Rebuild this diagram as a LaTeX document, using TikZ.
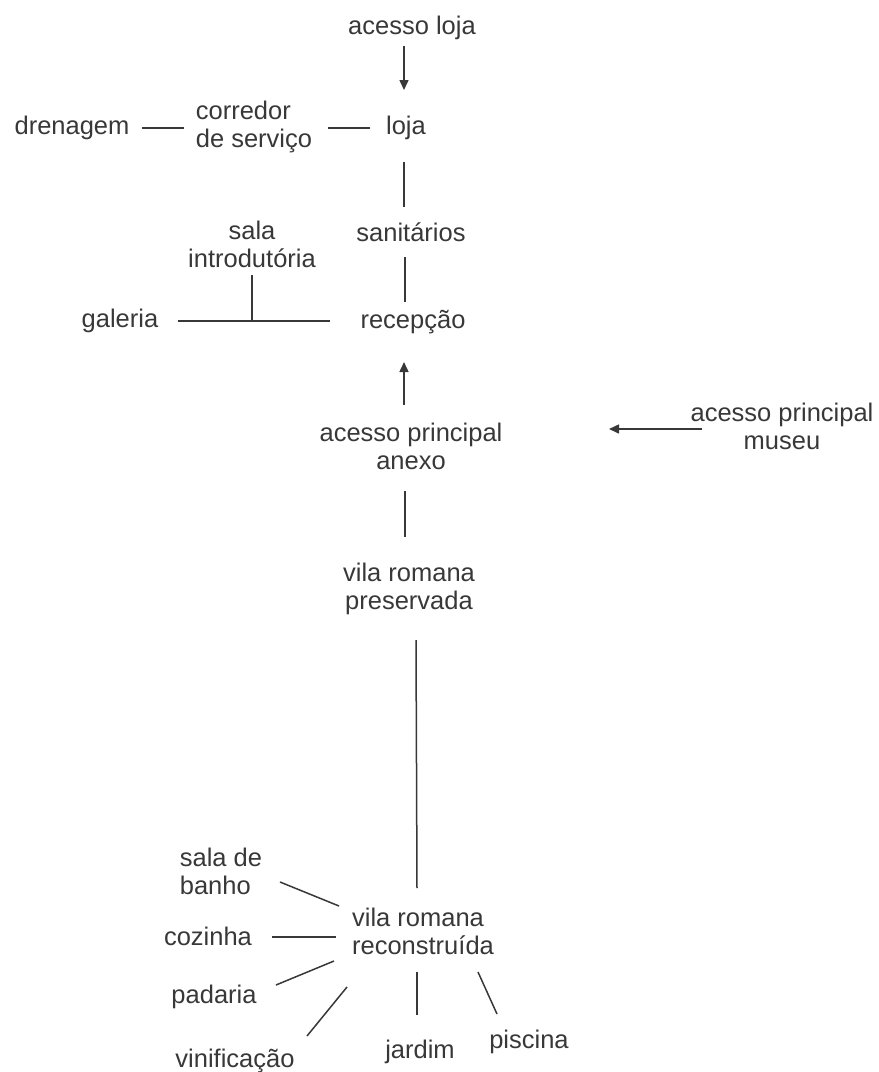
\documentclass[tikz,border=0pt]{standalone}
\usepackage{fontspec}
\setmainfont{Liberation Sans}
\usetikzlibrary{arrows.meta,calc}
\definecolor{ink}{HTML}{383838}
\tikzset{
  room/.style={inner sep=0pt, outer sep=0pt, text=ink, align=center,
    font=\fontsize{25.5}{28}\selectfont},
  link/.style={draw=ink, line width=1.5pt},
  flow/.style={link, -{Triangle[length=10pt, width=9pt]}}
}
\begin{document}
\begin{tikzpicture}[x=1pt, y=-1pt]
\useasboundingbox (0,0) rectangle (879,1072);
% top: shop and service wing
\node[room] (acessoloja) at (412,28) {acesso loja};
\node[room] (loja) at (406,128) {loja};
\node[room, align=left] (corredor) at (254,127) {corredor\\de serviço};
\node[room] (drenagem) at (72,128) {drenagem};
\node[room] (sanitarios) at (411,232) {sanitários};
\node[room] (recepcao) at (413,322) {recepção};
\node[room] (galeria) at (120,321) {galeria};
\node[room] (salaintro) at (252,244) {sala\\introdutória};
% entrances
\node[room] (anexo) at (411,446) {acesso principal\\anexo};
\node[room] (museu) at (782,426) {acesso principal\\museu};
\node[room] (preservada) at (409,589) {vila romana\\preservada};
% bottom: reconstructed villa
\node[room, align=left] (recon) at (423,931) {vila romana\\reconstruída};
\node[room, align=left] (banho) at (221,871) {sala de\\banho};
\node[room] (cozinha) at (208,936) {cozinha};
\node[room] (padaria) at (214,997) {padaria};
\node[room] (vinificacao) at (235,1061) {vinificação};
\node[room] (jardim) at (420,1052) {jardim};
\node[room] (piscina) at (529,1042) {piscina};

\draw[flow] ($(acessoloja)+(-8,18)$) -- ($(loja)+(-2,-38)$);
\draw[link] ($(drenagem)+(70,0)$) -- ($(corredor)+(-70,1)$);
\draw[link] ($(corredor)+(74,1)$) -- ($(loja)+(-36,0)$);
\draw[link] ($(loja)+(-2,34)$) -- ($(sanitarios)+(-7,-25)$);
\draw[link] ($(sanitarios)+(-6,25)$) -- ($(recepcao)+(-8,-20)$);
\draw[link] ($(galeria)+(58,0)$) -- ($(recepcao)+(-83,-1)$);
\draw[link] ($(salaintro)+(0,31)$) -- (salaintro |- galeria);
\draw[flow] ($(anexo)+(-7,-41)$) -- ($(recepcao)+(-9,40)$);
\draw[flow] ($(museu)+(-80,3)$) -- ($(anexo)+(198,-17)$);
\draw[link] ($(anexo)+(-6,45)$) -- ($(preservada)+(-4,-52)$);
\draw[link] ($(preservada)+(7,51)$) -- ($(recon)+(-6,-43)$);
% rooms around the reconstructed villa
\draw[link] ($(banho)+(59,11)$) -- ($(recon)+(-84,-25)$);
\draw[link] ($(cozinha)+(64,1)$) -- ($(recon)+(-87,6)$);
\draw[link] ($(padaria)+(62,-12)$) -- ($(recon)+(-89,30)$);
\draw[link] ($(vinificacao)+(72,-25)$) -- ($(recon)+(-76,56)$);
\draw[link] ($(jardim)+(-3,-37)$) -- ($(recon)+(-6,41)$);
\draw[link] ($(piscina)+(-32,-28)$) -- ($(recon)+(55,41)$);
\end{tikzpicture}
\end{document}
